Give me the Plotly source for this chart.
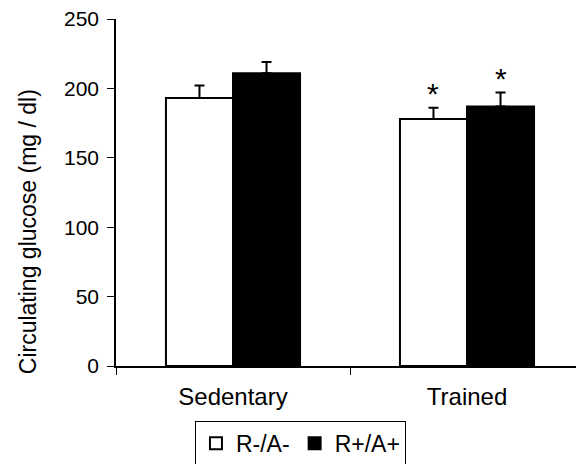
import plotly.graph_objects as go

categories = ["Sedentary", "Trained"]
series_names = ["R-/A-", "R+/A+"]
values_neg = [193, 178]
values_pos = [211, 187]
err_neg = [9, 8]
err_pos = [8, 10]
sig_neg = ["", "*"]
sig_pos = ["", "*"]
y_ticks = [0, 50, 100, 150, 200, 250]
y_title = "Circulating glucose (mg / dl)"

FONT = "Liberation Sans, Arial, sans-serif"
bargap = 0.427

fig = go.Figure()
fig.add_trace(go.Bar(
    x=categories, y=values_neg, name=series_names[0],
    marker=dict(color="white", line=dict(color="black", width=2)),
    error_y=dict(type="data", array=err_neg, arrayminus=[0] * len(err_neg),
                 symmetric=False, color="black", thickness=2, width=5),
))
fig.add_trace(go.Bar(
    x=categories, y=values_pos, name=series_names[1],
    marker=dict(color="black", line=dict(color="black", width=2)),
    error_y=dict(type="data", array=err_pos, arrayminus=[0] * len(err_pos),
                 symmetric=False, color="black", thickness=2, width=5),
))

bw = (1 - bargap) / 2
annotations = []
for i, c in enumerate(categories):
    for off, vals, errs, sig in ((-bw / 2, values_neg, err_neg, sig_neg),
                                 (bw / 2, values_pos, err_pos, sig_pos)):
        if sig[i]:
            annotations.append(dict(
                x=i + off, y=vals[i] + errs[i], xref="x", yref="y",
                text=sig[i], showarrow=False, yanchor="bottom",
                font=dict(family=FONT, size=30, color="black"), yshift=-4,
            ))

# y-axis title (placed as in the original, slightly below the plot centre)
annotations.append(dict(
    x=-0.191, y=0.386, xref="paper", yref="paper", text=y_title,
    textangle=-90, showarrow=False, xanchor="center", yanchor="middle",
    font=dict(family=FONT, size=23, color="black"),
))

fig.update_layout(
    width=576, height=464,
    margin=dict(l=116, r=0, t=19, b=98, autoexpand=False),
    paper_bgcolor="white", plot_bgcolor="white",
    barmode="group", bargap=bargap, bargroupgap=0,
    font=dict(family=FONT, color="black"),
    showlegend=True,
    legend=dict(orientation="h", x=0.401, xanchor="center", y=-0.158, yanchor="top",
                bordercolor="black", borderwidth=1, bgcolor="white",
                font=dict(family=FONT, size=23, color="black"),
                itemwidth=30, traceorder="normal"),
    annotations=annotations,
)
fig.update_xaxes(
    type="category", range=[-0.5, -0.5 + 460 / 234],
    showline=True, linecolor="black", linewidth=1.5,
    ticks="outside", tickson="boundaries", ticklen=7, tickcolor="black", tickwidth=1,
    tickfont=dict(family=FONT, size=24, color="black"), ticklabelstandoff=8,
    showgrid=False, zeroline=False,
)
fig.update_yaxes(
    range=[0, 250], tickvals=y_ticks,
    showline=True, linecolor="black", linewidth=1.5,
    ticks="outside", ticklen=7, tickcolor="black", tickwidth=1,
    tickfont=dict(family=FONT, size=21, color="black"), ticklabelstandoff=4,
    showgrid=False, zeroline=False,
)

fig.write_html("out.html")
